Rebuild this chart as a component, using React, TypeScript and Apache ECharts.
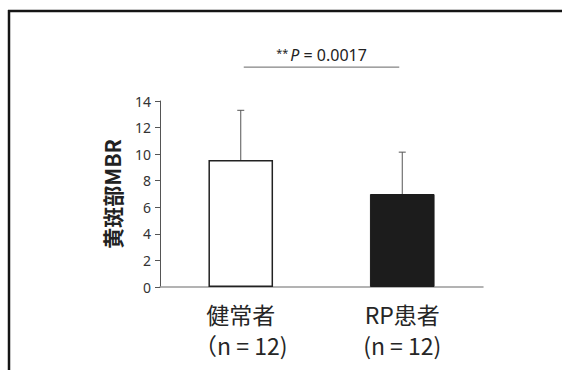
import React, { useEffect, useRef } from "react";
import * as echarts from "echarts";

const categories = ["健常者", "RP患者"];
const groupSizes = ["（n = 12)", "(n = 12)"];
const means = [9.55, 7.0];
const sds = [3.75, 3.15];
const yTicks = { min: 0, max: 14, interval: 2 };
const sigLabel = "P = 0.0017";
const sigStars = "**";
const sigLevel = 16.55;

const CJK = '"Noto Sans CJK JP", "Noto Sans", sans-serif';
const LATIN = '"Noto Sans", "Open Sans", sans-serif';

export default function App() {
  const ref = useRef<HTMLDivElement>(null);
  useEffect(() => {
    if (!ref.current) return;
    const chart = echarts.init(ref.current, undefined, { renderer: "svg" });
    const option: any = {
      animation: false,
      backgroundColor: "#fff",
      grid: { left: 160, right: 79, top: 101, bottom: 83 },
      graphic: [
        { type: "line", shape: { x1: 9, y1: 10, x2: 9, y2: 370 }, style: { stroke: "#151515", lineWidth: 2.5 } },
        { type: "line", shape: { x1: 8, y1: 11, x2: 562, y2: 11 }, style: { stroke: "#151515", lineWidth: 2.5 } },
      ],
      xAxis: {
        type: "category",
        data: categories,
        axisLine: { lineStyle: { color: "#9a9a9a", width: 1.5 } },
        axisTick: { show: false },
        axisLabel: {
          margin: 11,
          color: "#262626",
          fontSize: 23,
          lineHeight: 31,
          fontFamily: CJK,
          formatter: (v: string, i: number) => `${v}\n${groupSizes[i]}`,
        },
      },
      yAxis: {
        type: "value",
        min: yTicks.min,
        max: yTicks.max,
        interval: yTicks.interval,
        name: "黄斑部MBR",
        nameLocation: "middle",
        nameGap: 38,
        nameTextStyle: { color: "#222", fontSize: 21, fontFamily: CJK, fontWeight: "bold" },
        axisLine: { show: true, lineStyle: { color: "#555", width: 1 } },
        axisTick: { show: true, length: 5, lineStyle: { color: "#555" } },
        splitLine: { show: false },
        axisLabel: { color: "#333", fontSize: 14, fontFamily: LATIN, margin: 9 },
      },
      series: [
        {
          type: "bar",
          barWidth: "40%",
          data: means.map((m, i) => ({
            value: m,
            itemStyle:
              i === 0
                ? { color: "#ffffff", borderColor: "#222", borderWidth: 1.5 }
                : { color: "#1c1c1c", borderColor: "#1c1c1c", borderWidth: 1 },
          })),
          z: 2,
        },
        {
          type: "custom",
          z: 1,
          data: means.map((m, i) => [i, m, m + sds[i]]),
          encode: { x: 0, y: [1, 2] },
          renderItem: (params: any, api: any) => {
            const x = api.value(0);
            const lo = api.coord([x, api.value(1)]);
            const hi = api.coord([x, api.value(2)]);
            const cap = 3.5;
            const style = { stroke: "#555", lineWidth: 1 };
            return {
              type: "group",
              children: [
                { type: "line", shape: { x1: lo[0], y1: lo[1], x2: hi[0], y2: hi[1] }, style },
                { type: "line", shape: { x1: hi[0] - cap, y1: hi[1], x2: hi[0] + cap, y2: hi[1] }, style },
              ],
            };
          },
        },
        {
          type: "custom",
          clip: false,
          z: 3,
          data: [[0, 1, sigLevel]],
          encode: { x: 0, y: 2 },
          renderItem: (params: any, api: any) => {
            const y = api.value(2);
            const a = api.coord([api.value(0), y]);
            const b = api.coord([api.value(1), y]);
            const ax = a[0] + 3;
            const bx = b[0] - 3;
            return {
              type: "group",
              children: [
                { type: "line", shape: { x1: ax, y1: a[1], x2: bx, y2: b[1] }, style: { stroke: "#666", lineWidth: 1 } },
                {
                  type: "text",
                  style: {
                    x: (ax + bx) / 2,
                    y: a[1] - 4,
                    align: "center",
                    verticalAlign: "bottom",
                    text: `{s|${sigStars}}{i|P}{n|${sigLabel.slice(1)}}`,
                    rich: {
                      s: { fontSize: 11, fontFamily: LATIN, fill: "#222", verticalAlign: "top", padding: [0, 2, 0, 0] },
                      i: { fontSize: 16, fontFamily: LATIN, fontStyle: "italic", fill: "#222" },
                      n: { fontSize: 16, fontFamily: LATIN, fill: "#222" },
                    },
                  },
                },
              ],
            };
          },
        },
      ],
    };
    chart.setOption(option);
    return () => chart.dispose();
  }, []);
  return <div ref={ref} style={{ position: "fixed", left: 0, top: 0, width: 562, height: 370 }} />;
}
